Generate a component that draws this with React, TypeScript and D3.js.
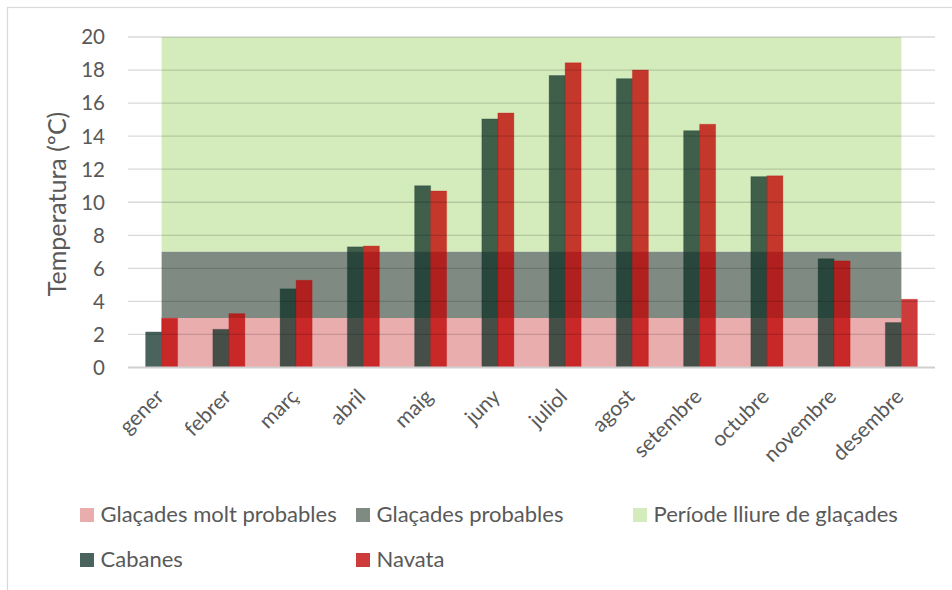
import React from "react";
import * as d3 from "d3";

const months = ["gener", "febrer", "març", "abril", "maig", "juny", "juliol", "agost", "setembre", "octubre", "novembre", "desembre"];
const cabanes = [2.15, 2.31, 4.76, 7.3, 11.0, 15.04, 17.67, 17.48, 14.33, 11.55, 6.58, 2.72];
const navata = [2.98, 3.26, 5.28, 7.35, 10.68, 15.4, 18.44, 18.0, 14.72, 11.6, 6.45, 4.13];
// Stacked area bands (upper limits)
const bandMoltProbables = [3, 3, 3, 3, 3, 3, 3, 3, 3, 3, 3, 3];
const bandProbables = [7, 7, 7, 7, 7, 7, 7, 7, 7, 7, 7, 7];
const bandLliure = [20, 20, 20, 20, 20, 20, 20, 20, 20, 20, 20, 20];
const yTicks = [0, 2, 4, 6, 8, 10, 12, 14, 16, 18, 20];
const seriesNames = ["Cabanes", "Navata"];
const legendRow1 = ["Glaçades molt probables", "Glaçades probables", "Període lliure de glaçades"];

const W = 952;
const H = 590;
const FONT = "Lato, 'Open Sans', sans-serif";
const TXT = "#595959";

const colPink = "#EAADAE";
const colGray = "#7F8B82";
const colGreen = "#D4EBBB";
const colCab = "rgb(11,46,36)";
const colNav = "rgb(191,0,0)";
const opCab = 0.74;
const opNav = 0.77;

export default function App() {
  const x = d3.scaleBand<string>().domain(months).range([128, 935]).paddingInner(0.524).paddingOuter(0.262);
  const xs = d3.scaleBand<string>().domain(seriesNames).range([0, x.bandwidth()]);
  const y = d3.scaleLinear().domain([0, 20]).range([367.5, 37]);
  const cx = (m: string) => (x(m) as number) + x.bandwidth() / 2;

  const idx = months.map((_, i) => i);
  const area = (lo: number[] | null, hi: number[]) =>
    d3
      .area<number>()
      .x((i) => cx(months[i]))
      .y0((i) => y(lo ? lo[i] : 0))
      .y1((i) => y(hi[i]))(idx) as string;

  const legendCols = [80, 356, 633];
  const row1Colors = [colPink, colGray, colGreen];

  return (
    <svg width={W} height={H} style={{ position: "absolute", left: 0, top: 0, background: "#fff" }} fontFamily={FONT}>
      <rect x={0} y={0} width={W} height={H} fill="#fff" />
      <rect x={7.5} y={7.5} width={W + 20} height={H + 20} fill="none" stroke="#d9d9d9" strokeWidth={1.2} />

      {/* bands */}
      <path d={area(bandProbables, bandLliure)} fill={colGreen} />
      <path d={area(bandMoltProbables, bandProbables)} fill={colGray} />
      <path d={area(null, bandMoltProbables)} fill={colPink} />

      {/* bars */}
      {months.map((m, i) => (
        <g key={m} transform={`translate(${x(m)},0)`}>
          <rect
            x={xs("Cabanes")}
            y={y(cabanes[i])}
            width={xs.bandwidth()}
            height={y(0) - y(cabanes[i])}
            fill={colCab}
            fillOpacity={opCab}
            stroke={colCab}
            strokeOpacity={0.25}
            strokeWidth={1}
          />
          <rect
            x={xs("Navata")}
            y={y(navata[i])}
            width={xs.bandwidth()}
            height={y(0) - y(navata[i])}
            fill={colNav}
            fillOpacity={opNav}
            stroke={colNav}
            strokeOpacity={0.25}
            strokeWidth={1}
          />
        </g>
      ))}

      {/* gridlines */}
      {yTicks.map((t) => (
        <line
          key={t}
          x1={128}
          x2={935}
          y1={y(t)}
          y2={y(t)}
          stroke={t === 0 ? "#d0d0d0" : "rgba(0,0,0,0.15)"}
          strokeWidth={t === 0 ? 2 : 1.3}
        />
      ))}

      {/* y tick labels */}
      {yTicks.map((t) => (
        <text key={t} x={105} y={y(t)} dy="0.36em" textAnchor="end" fontSize={20.5} fill={TXT}>
          {t}
        </text>
      ))}

      {/* y title */}
      <text transform={`translate(66,204) rotate(-90)`} textAnchor="middle" fontSize={25} fill={TXT}>
        Temperatura (ºC)
      </text>

      {/* x labels */}
      {months.map((m) => (
        <text key={m} transform={`translate(${cx(m) + 3.5},398) rotate(-45)`} textAnchor="end" fontSize={21} fill={TXT}>
          {m}
        </text>
      ))}

      {/* legend */}
      {legendRow1.map((name, i) => (
        <g key={name}>
          <rect x={legendCols[i]} y={508} width={14} height={14} fill={row1Colors[i]} />
          <text x={legendCols[i] + 20.5} y={522} fontSize={22} fill={TXT}>
            {name}
          </text>
        </g>
      ))}
      {seriesNames.map((name, i) => (
        <g key={name}>
          <rect
            x={legendCols[i]}
            y={553}
            width={14}
            height={14}
            fill={i === 0 ? colCab : colNav}
            fillOpacity={i === 0 ? opCab : opNav}
          />
          <text x={legendCols[i] + 20.5} y={567} fontSize={22} fill={TXT}>
            {name}
          </text>
        </g>
      ))}
    </svg>
  );
}
